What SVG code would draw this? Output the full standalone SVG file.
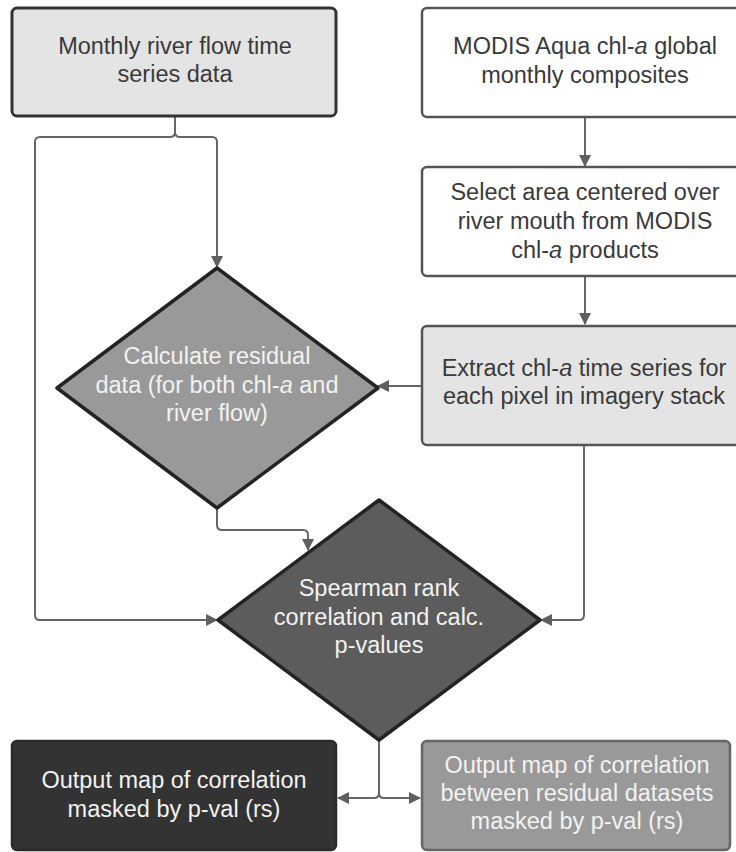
<svg xmlns="http://www.w3.org/2000/svg" width="736" height="852" viewBox="0 0 736 852">
<style>
.t{font-family:"Liberation Sans",Arial,sans-serif;font-size:23.5px;text-anchor:middle}
.dk{fill:#3a3a3a}
.lt{fill:#f2f2f2}
.c{fill:none;stroke:#666;stroke-width:2;stroke-linejoin:round}
</style>
<defs>
<marker id="ah" viewBox="0 0 12 12" refX="11" refY="6" markerWidth="12" markerHeight="12" markerUnits="userSpaceOnUse" orient="auto">
<path d="M0,0 L12,6 L0,12 Z" fill="#5f5f5f"/>
</marker>
</defs>
<rect width="736" height="852" fill="#fff"/>
<g id="connectors">
<path class="c" d="M175,117 V132 Q175,137 170,137 H40 Q35,137 35,142 V615 Q35,620 40,620 H217" marker-end="url(#ah)"/>
<path class="c" d="M175,132 Q175,137 180,137 H212 Q217,137 217,142 V267" marker-end="url(#ah)"/>
<path class="c" d="M585,117 V166" marker-end="url(#ah)"/>
<path class="c" d="M585,276 V324" marker-end="url(#ah)"/>
<path class="c" d="M422,386 H378" marker-end="url(#ah)"/>
<path class="c" d="M217,508 V525 Q217,530 222,530 H303 Q308,530 308,535 V550" marker-end="url(#ah)"/>
<path class="c" d="M584,445 V615 Q584,620 579,620 H541" marker-end="url(#ah)"/>
<path class="c" d="M379,740 V793 Q379,798 374,798 H338" marker-end="url(#ah)"/>
<path class="c" d="M379,793 Q379,798 384,798 H420" marker-end="url(#ah)"/>
</g>
<g id="n1">
<rect x="12" y="8" width="324" height="108" rx="5" fill="#e4e4e4" stroke="#333" stroke-width="3"/>
<text class="t dk" x="175" y="54">Monthly river flow time</text>
<text class="t dk" x="175" y="82">series data</text>
</g>
<g id="n2">
<rect x="422" y="8" width="330" height="109" rx="5" fill="#fff" stroke="#555" stroke-width="2.5"/>
<text class="t dk" x="585" y="54">MODIS Aqua chl-<tspan font-style="italic">a</tspan> global</text>
<text class="t dk" x="585" y="83">monthly composites</text>
</g>
<g id="n3">
<rect x="422" y="167" width="330" height="109" rx="5" fill="#fff" stroke="#555" stroke-width="2.5"/>
<text class="t dk" x="585" y="200">Select area centered over</text>
<text class="t dk" x="585" y="229">river mouth from MODIS</text>
<text class="t dk" x="585" y="258">chl-<tspan font-style="italic">a</tspan> products</text>
</g>
<g id="n4">
<rect x="422" y="326" width="330" height="119" rx="5" fill="#e4e4e4" stroke="#555" stroke-width="2.5"/>
<text class="t dk" x="584" y="376">Extract chl-<tspan font-style="italic">a</tspan> time series for</text>
<text class="t dk" x="584" y="404">each pixel in imagery stack</text>
</g>
<g id="n5">
<path d="M217,268 L378,388 L217,508 L57,388 Z" fill="#999" stroke="#232323" stroke-width="3.5" stroke-linejoin="round"/>
<text class="t lt" x="217" y="364">Calculate residual</text>
<text class="t lt" x="217" y="393">data (for both chl-<tspan font-style="italic">a</tspan> and</text>
<text class="t lt" x="217" y="421">river flow)</text>
</g>
<g id="n6">
<path d="M379,500 L540,620 L379,740 L218,620 Z" fill="#5c5c5c" stroke="#232323" stroke-width="3.5" stroke-linejoin="round"/>
<text class="t lt" x="379" y="596">Spearman rank</text>
<text class="t lt" x="379" y="625">correlation and calc.</text>
<text class="t lt" x="379" y="653">p-values</text>
</g>
<g id="n7">
<rect x="12" y="741" width="324" height="109" rx="5" fill="#333" stroke="#2a2a2a" stroke-width="2.5"/>
<text class="t lt" x="174" y="788">Output map of correlation</text>
<text class="t lt" x="174" y="817">masked by p-val (rs)</text>
</g>
<g id="n8">
<rect x="422" y="741" width="308" height="109" rx="5" fill="#999" stroke="#666" stroke-width="2.5"/>
<text class="t lt" x="577" y="773">Output map of correlation</text>
<text class="t lt" x="577" y="801">between residual datasets</text>
<text class="t lt" x="577" y="829">masked by p-val (rs)</text>
</g>
</svg>
